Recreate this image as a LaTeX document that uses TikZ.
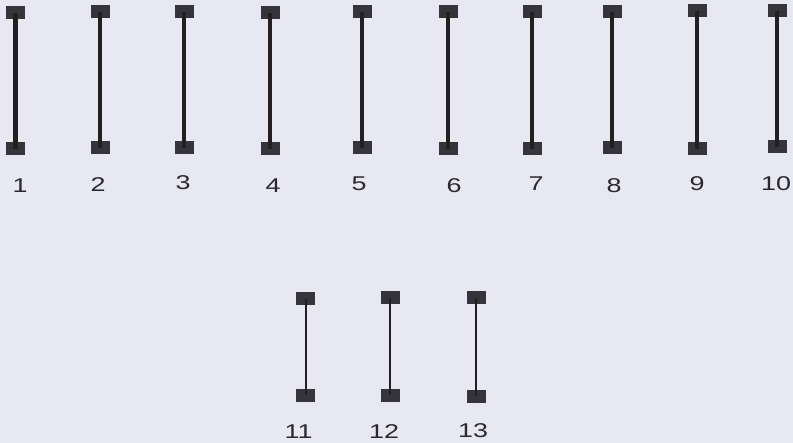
\documentclass[tikz,border=0pt]{standalone}
\usepackage{fontspec}
\setmainfont{Liberation Sans}
\newfontfamily\tagfont[FakeStretch=1.35]{Liberation Sans}
\usetikzlibrary{positioning}
\definecolor{bgcol}{RGB}{232,232,242}
\definecolor{padcol}{RGB}{52,52,58}
\definecolor{wirecol}{RGB}{35,31,32}
\definecolor{tagcol}{RGB}{40,40,45}

\begin{document}
\begin{tikzpicture}[
  x=1bp, y=-1bp,
  padbox/.style={rectangle, fill=padcol, minimum width=19bp, minimum height=13bp, inner sep=0pt},
  leadline/.style={line width=4.2bp, draw=wirecol},
  thinline/.style={line width=2bp, draw=wirecol},
  tag/.style={font=\tagfont\fontsize{20}{20}\selectfont, text=tagcol, inner sep=0pt}
]
\fill[bgcol] (0,0) rectangle (793,443);
\useasboundingbox (0,0) rectangle (793,443);
% upper row
\foreach \i/\tx/\ty/\bx/\by/\lx/\ly in {1/15.5/13/15.5/149/20/186, 2/100/12/100/148/98/185, 3/184/12/184/148/183/183,
  4/270/13/270/149/273/186, 5/362/12/362/148/359/184, 6/448/12/448/149/454/186,
  7/532/12/532/149/536/184, 8/612/12/612/148/614/186, 9/697/11/697/149/697/184, 10/777/11/777/147/776/184} {
  \node[padbox] (t\i) at (\tx,\ty) {};
  \node[padbox] (b\i) at (\bx,\by) {};
  \node[tag] (l\i) at (\lx,\ly) {\i};
  \draw[leadline] (t\i.center) -- (b\i.center);
}
% lower row
\foreach \i/\tx/\ty/\bx/\by/\lx/\ly in {11/305.5/299/305.5/395/298.5/432, 12/390/298/390/395/384/432, 13/476/298/476/396/473/431} {
  \node[padbox] (t\i) at (\tx,\ty) {};
  \node[padbox] (b\i) at (\bx,\by) {};
  \node[tag] (l\i) at (\lx,\ly) {\i};
  \draw[thinline] (t\i.center) -- (b\i.center);
}
\end{tikzpicture}
\end{document}
